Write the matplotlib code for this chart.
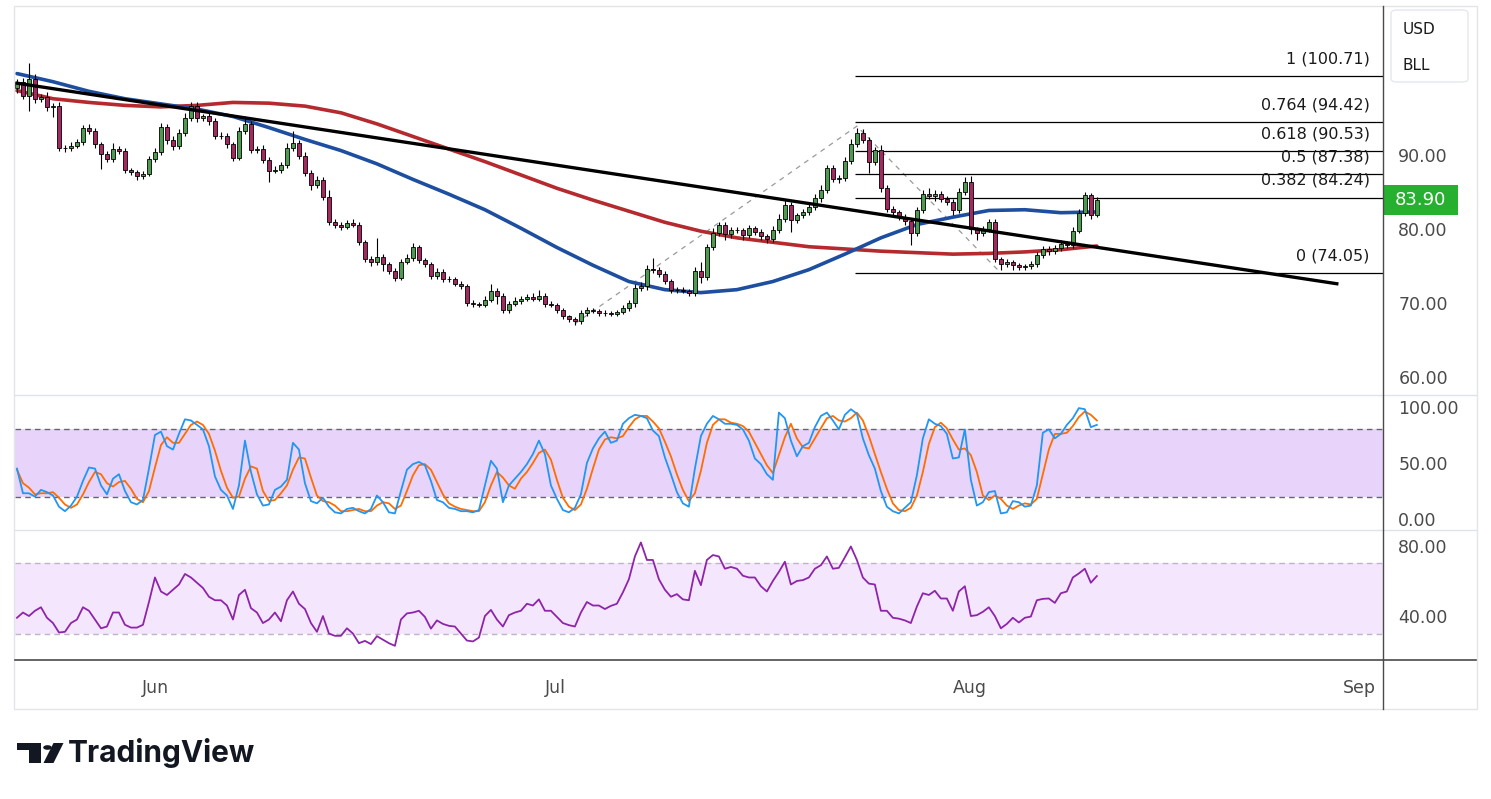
import numpy as np
import matplotlib.pyplot as plt
from matplotlib.patches import Rectangle, FancyBboxPatch, Polygon, Circle
from matplotlib.lines import Line2D

# ---------------- data (one value per bar) ----------------
first_open = 99.0
closes = [
    99.8, 98.0, 100.3, 97.5, 97.8, 96.5, 96.6, 91.0, 90.9, 91.2,
    91.8, 93.6, 93.3, 91.5, 90.1, 89.5, 90.8, 90.5, 88.0, 87.7,
    87.2, 87.4, 89.5, 90.4, 93.8, 92.0, 91.2, 93.0, 95.0, 96.6,
    95.0, 95.2, 94.6, 92.5, 92.6, 91.5, 89.6, 93.3, 94.2, 90.7,
    90.8, 89.3, 87.9, 88.0, 88.6, 91.0, 91.6, 89.9, 87.6, 86.0,
    86.6, 84.3, 81.0, 80.6, 80.3, 80.8, 80.6, 78.2, 76.0, 75.5,
    76.2, 75.3, 74.3, 73.4, 75.5, 76.1, 77.5, 75.8, 75.2, 73.7,
    74.2, 73.3, 73.2, 72.6, 72.3, 70.0, 69.8, 69.7, 70.4, 71.6,
    70.9, 69.1, 69.9, 70.3, 70.5, 70.8, 70.6, 71.0, 69.9, 69.7,
    69.0, 68.2, 67.8, 67.5, 68.6, 69.0, 68.9, 68.7, 68.6, 68.5,
    68.8, 69.3, 70.0, 72.0, 72.3, 74.6, 74.4, 73.9, 73.0, 71.7,
    71.8, 71.6, 71.4, 74.3, 73.5, 77.5, 79.5, 80.5, 79.3, 79.9,
    79.8, 79.2, 80.1, 79.6, 79.0, 78.7, 79.9, 81.4, 83.3, 81.2,
    81.9, 82.3, 83.0, 84.2, 85.3, 88.2, 86.8, 86.9, 89.2, 91.5,
    93.0, 92.0, 89.0, 90.7, 85.5, 82.7, 82.3, 81.6, 81.1, 79.5,
    82.6, 84.7, 84.4, 84.7, 84.1, 83.7, 82.5, 85.0, 86.4, 80.0,
    79.5, 80.0, 81.0, 75.9, 75.3, 75.5, 75.1, 74.8, 75.0, 75.3,
    76.5, 77.3, 77.0, 77.4, 78.0, 77.8, 79.7, 82.2, 84.6, 81.9,
    83.9,
]
wick_hi = [
    0.5, 0.6, 2.1, 0.6, 0.5, 0.7, 0.4, 0.6, 0.4, 0.5,
    0.4, 0.5, 0.6, 0.4, 0.3, 0.4, 0.8, 0.4, 0.5, 0.3,
    0.3, 0.4, 0.4, 0.6, 0.5, 0.4, 0.5, 0.5, 0.7, 0.6,
    0.5, 0.4, 0.8, 0.4, 0.5, 0.4, 0.3, 0.5, 1.0, 0.4,
    0.4, 0.5, 0.4, 0.5, 0.5, 0.6, 1.6, 0.4, 0.5, 0.4,
    0.5, 0.4, 1.0, 0.4, 0.3, 0.4, 0.5, 0.4, 0.3, 0.3,
    2.6, 0.4, 0.3, 0.4, 0.5, 0.5, 0.6, 0.4, 0.3, 0.4,
    0.5, 0.4, 0.4, 0.3, 0.4, 0.3, 0.4, 0.3, 0.5, 1.0,
    0.4, 0.4, 0.4, 0.5, 0.4, 0.4, 0.5, 0.7, 0.3, 0.3,
    0.3, 0.3, 0.2, 0.3, 0.4, 0.4, 0.3, 0.3, 0.3, 0.3,
    0.3, 0.4, 0.4, 0.5, 0.5, 0.5, 1.5, 0.4, 0.4, 0.3,
    0.3, 0.3, 0.3, 0.6, 1.2, 0.5, 0.6, 0.5, 0.4, 0.3,
    0.4, 0.3, 0.4, 0.3, 0.4, 0.3, 0.5, 0.6, 0.7, 0.4,
    0.3, 0.4, 0.4, 0.5, 0.6, 0.4, 0.4, 0.4, 0.5, 0.6,
    0.6, 0.5, 0.4, 0.4, 0.6, 0.4, 0.4, 0.3, 0.4, 0.3,
    0.4, 0.6, 0.8, 0.5, 0.4, 0.4, 0.3, 0.5, 0.6, 0.8,
    0.3, 0.4, 0.4, 0.3, 0.3, 0.4, 0.3, 0.3, 0.3, 0.4,
    0.4, 0.4, 0.4, 0.4, 0.5, 0.4, 0.5, 0.5, 0.4, 0.3,
    0.4,
]
wick_lo = [
    0.6, 0.4, 2.0, 0.5, 0.4, 0.6, 1.4, 0.5, 0.5, 0.4,
    0.3, 0.4, 0.4, 0.5, 2.0, 0.4, 0.5, 0.4, 0.5, 0.4,
    0.6, 0.4, 0.3, 0.4, 0.4, 0.5, 0.5, 0.4, 0.4, 0.4,
    0.6, 0.4, 0.5, 0.4, 0.4, 0.6, 0.4, 0.3, 0.4, 0.5,
    0.4, 0.4, 1.5, 0.4, 0.4, 0.3, 0.4, 0.4, 0.5, 0.7,
    0.4, 0.4, 0.4, 0.5, 0.4, 0.3, 0.4, 0.4, 0.4, 0.5,
    0.4, 1.0, 0.4, 0.4, 0.3, 0.3, 0.4, 0.4, 0.4, 0.4,
    0.4, 0.4, 0.3, 0.3, 0.4, 0.4, 0.4, 0.3, 0.3, 0.3,
    1.0, 0.4, 0.4, 0.3, 0.4, 0.3, 0.4, 0.3, 0.4, 0.3,
    0.3, 0.3, 0.4, 0.5, 0.3, 0.3, 0.3, 0.4, 0.3, 0.3,
    0.3, 0.3, 0.4, 0.5, 0.4, 0.5, 0.4, 0.4, 0.4, 0.4,
    0.3, 0.3, 0.4, 0.4, 0.8, 0.4, 0.4, 0.5, 0.8, 0.5,
    0.4, 0.7, 0.4, 0.4, 0.5, 0.6, 0.4, 0.4, 0.4, 1.6,
    0.4, 0.4, 0.4, 0.4, 0.5, 0.4, 0.4, 0.6, 0.4, 0.4,
    0.4, 0.4, 1.4, 0.4, 0.5, 0.4, 0.5, 0.4, 0.6, 1.7,
    0.5, 0.4, 0.3, 0.6, 0.4, 0.5, 0.6, 0.4, 0.4, 0.7,
    1.0, 0.4, 0.4, 0.4, 0.8, 0.4, 0.6, 0.4, 0.4, 0.4,
    0.4, 0.4, 0.5, 0.4, 0.4, 0.4, 0.4, 0.3, 0.4, 0.5,
    0.3,
]

# moving averages, one reading every 6 bars
ma_step = 6
ma_fast = [101.0, 99.9, 98.6, 97.6, 96.9, 96.2, 95.2, 93.7, 92.1, 90.6, 88.8,
           86.7, 84.7, 82.6, 80.1, 77.5, 75.1, 72.9, 71.8, 71.4, 71.8, 72.9,
           74.5, 76.6, 78.8, 80.6, 81.6, 82.5, 82.6, 82.2, 82.3]
ma_slow = [98.7, 97.6, 97.1, 96.7, 96.5, 96.7, 97.1, 97.0, 96.6, 95.7, 94.2,
           92.5, 90.8, 89.1, 87.3, 85.5, 83.9, 82.4, 80.9, 79.7, 78.8, 78.2,
           77.6, 77.3, 77.0, 76.8, 76.6, 76.7, 76.9, 77.2, 77.7]

trend_bars = [0, 220]
trend_prices = [99.7, 72.6]

fib_path_bars = [93, 140, 164]
fib_path_prices = [67.2, 93.9, 74.05]
fib_ratios = ['1', '0.764', '0.618', '0.5', '0.382', '0']
fib_prices = [100.71, 94.42, 90.53, 87.38, 84.24, 74.05]
fib_from_bar = 139.7

stoch_k = [
    45, 23, 23, 20, 26, 24, 21, 11, 7, 12,
    20, 34, 46, 45, 30, 22, 36, 40, 25, 15,
    13, 17, 45, 75, 78, 65, 62, 76, 89, 88,
    84, 80, 65, 38, 26, 21, 9, 30, 70, 42,
    22, 12, 13, 26, 29, 35, 68, 62, 32, 16,
    14, 19, 11, 6, 5, 9, 10, 7, 5, 9,
    21, 15, 6, 5, 25, 44, 49, 51, 48, 34,
    17, 15, 10, 9, 7, 7, 6, 8, 30, 52,
    45, 15, 30, 36, 42, 49, 58, 70, 58, 30,
    18, 8, 6, 10, 22, 50, 63, 72, 78, 68,
    70, 85, 90, 93, 92, 90, 79, 74, 55, 40,
    24, 14, 11, 45, 74, 85, 92, 89, 85, 85,
    84, 80, 70, 54, 49, 40, 35, 95, 90, 70,
    56, 65, 68, 82, 92, 95, 88, 80, 93, 98,
    94, 72, 57, 45, 25, 11, 7, 5, 10, 15,
    39, 72, 89, 85, 83, 76, 54, 55, 80, 35,
    12, 15, 24, 25, 5, 6, 16, 15, 11, 12,
    30, 77, 80, 72, 76, 84, 90, 99, 98, 82,
    84,
]
stoch_d = [
    44, 32, 28, 22, 23, 23, 24, 19, 13, 10,
    13, 22, 33, 42, 40, 32, 29, 33, 34, 27,
    18, 15, 25, 46, 66, 73, 68, 68, 76, 84,
    87, 84, 76, 61, 43, 28, 19, 20, 36, 47,
    45, 25, 16, 17, 23, 30, 44, 55, 54, 37,
    21, 16, 15, 12, 7, 7, 8, 9, 7, 7,
    12, 15, 14, 9, 12, 25, 39, 48, 49, 44,
    33, 22, 14, 11, 9, 8, 7, 7, 15, 30,
    42, 37, 30, 27, 36, 42, 50, 59, 62, 53,
    35, 19, 11, 8, 13, 27, 45, 62, 71, 73,
    72, 74, 82, 89, 92, 92, 87, 81, 69, 56,
    40, 26, 16, 23, 43, 68, 84, 89, 89, 86,
    85, 83, 78, 68, 58, 48, 41, 57, 73, 85,
    72, 64, 63, 72, 81, 90, 92, 88, 87, 90,
    95, 88, 74, 58, 42, 27, 14, 8, 7, 10,
    21, 42, 67, 82, 86, 81, 71, 62, 63, 57,
    42, 21, 17, 21, 18, 12, 9, 12, 14, 13,
    18, 40, 62, 76, 76, 77, 83, 91, 96, 93,
    88,
]
rsi = [
    39, 42, 40, 43, 45, 39, 36, 30.6, 31, 36,
    38, 45, 43, 38, 33, 34, 42, 42, 35, 33.4,
    33.4, 35, 48, 62, 54, 52, 55, 58, 64, 62,
    59, 56, 51, 49, 49, 46, 38, 52, 55, 44.5,
    42, 36, 38, 42, 37, 49, 54, 47, 44, 36,
    31, 40, 30, 28.7, 28.7, 33, 30, 24.5, 25.8, 24,
    28.5, 26.5, 24.5, 23, 38, 41.5, 42, 43, 39.5, 32.8,
    37.5, 35.5, 34.4, 34, 30, 26, 25.5, 27.7, 40, 43.5,
    38, 34, 40.5, 42, 43, 47, 46, 49.5, 43, 43,
    39.5, 36, 34.8, 34, 42, 48, 46, 46, 44, 45.8,
    47, 53.5, 61, 74, 82, 72, 72, 61, 55, 51,
    52.5, 49.5, 49, 65.8, 57.6, 72, 74.8, 74, 67, 68,
    67, 63, 62, 62, 57, 54, 60, 65.2, 71, 58,
    60, 60.5, 62, 67, 69, 74, 67, 67.5, 73.5, 79.7,
    72, 62, 58.5, 58, 43, 43, 39, 38.5, 37.5, 36,
    45.4, 53, 52, 54.4, 50, 50, 43, 54, 57, 40,
    40.5, 42.4, 45, 40, 33, 35.5, 39, 36.3, 39, 39.7,
    49, 49.8, 50, 47.5, 53, 54, 62, 64.3, 67, 59,
    62.8,
]

last_price = 83.90
symbol_lines = ['USD', 'BLL']
price_ticks = [60, 70, 80, 90]
stoch_ticks = [0, 50, 100]
rsi_ticks = [40, 80]
month_labels = ['Jun', 'Jul', 'Aug', 'Sep']

# ---------------- layout (pixel based) ----------------
W, H = 1491, 799
month_bars = [23, 89.7, 158.8, 223.8]
x_left, x_right = -0.33, 227.7

fig = plt.figure(figsize=(W / 100, H / 100), dpi=100)
fig.patch.set_facecolor('white')


def fx(x):
    return x / W


def fy(y):
    return 1 - y / H


def px_axes(x0, y0, x1, y1):
    return fig.add_axes([fx(x0), fy(y1), (x1 - x0) / W, (y1 - y0) / H])


ax = px_axes(15, 8, 1383, 394)
ax_st = px_axes(15, 395, 1383, 529)
ax_rsi = px_axes(15, 530, 1383, 660)

axis_color = '#4a4a4a'
for a in (ax, ax_st, ax_rsi):
    a.set_xlim(x_left, x_right)
    for s in a.spines.values():
        s.set_visible(False)
    a.yaxis.tick_right()
    a.tick_params(axis='y', length=0, pad=11, labelsize=12.5, labelcolor=axis_color)
    a.tick_params(axis='x', length=0)
    a.set_xticks([])

# ---------------- main price panel ----------------
n = len(closes)
bars = np.arange(n)
c = np.array(closes)
o = np.concatenate([[first_open], c[:-1]])
hi = np.maximum(o, c) + np.array(wick_hi)
lo = np.minimum(o, c) - np.array(wick_lo)
up = c >= o
body_col = np.where(up, '#4e9a4e', '#a3295e')

ax.vlines(bars, lo, hi, color='black', linewidth=0.8, zorder=3)
ax.bar(bars, np.maximum(np.abs(c - o), 0.08), bottom=np.minimum(o, c), width=0.62,
       color=body_col, edgecolor='black', linewidth=0.6, zorder=4)

ma_x = np.arange(len(ma_fast)) * ma_step
ax.plot(ma_x, ma_slow, color='#b52a2e', linewidth=2.6, zorder=2,
        solid_capstyle='round', solid_joinstyle='round')
ax.plot(ma_x, ma_fast, color='#1d4ea0', linewidth=2.6, zorder=2,
        solid_capstyle='round', solid_joinstyle='round')
ax.plot(trend_bars, trend_prices, color='black', linewidth=2.4, zorder=5)

ax.plot(fib_path_bars, fib_path_prices, color='#9a9a9a', linewidth=0.9,
        linestyle=(0, (4, 4)), zorder=1)
ax.hlines(fib_prices, fib_from_bar, x_right, color='black', linewidth=0.9, zorder=1)
for r, p in zip(fib_ratios, fib_prices):
    ax.text(225.5, p + 1.3, f'{r} ({p:.2f})', ha='right', va='bottom',
            fontsize=11.5, color='#1a1a1a', zorder=6)

ax.set_ylim(57.7, 109.86)
ax.set_yticks(price_ticks, [f'{t:.2f}' for t in price_ticks])

# ---------------- stochastic panel ----------------
ax_st.axhspan(20, 80, color='#e8d4fb', zorder=0, linewidth=0)
for lvl in (20, 80):
    ax_st.axhline(lvl, color='#63666f', linewidth=1, linestyle=(0, (4, 3)), zorder=1)
ax_st.plot(bars, stoch_d, color='#ff6d00', linewidth=1.3, zorder=2)
ax_st.plot(bars, stoch_k, color='#2196f3', linewidth=1.3, zorder=3)
ax_st.set_ylim(-8.9, 110.7)
ax_st.set_yticks(stoch_ticks, [f'{t:.2f}' for t in stoch_ticks])

# ---------------- RSI panel ----------------
ax_rsi.axhspan(30, 70, color='#f4e7fd', zorder=0, linewidth=0)
for lvl in (30, 70):
    ax_rsi.axhline(lvl, color='#c0b3c9', linewidth=1, linestyle=(0, (4, 3)), zorder=1)
ax_rsi.plot(bars, rsi, color='#8e24aa', linewidth=1.3, zorder=2)
ax_rsi.set_ylim(14.9, 89.1)
ax_rsi.set_yticks(rsi_ticks, [f'{t:.2f}' for t in rsi_ticks])
ax_rsi.set_xticks(month_bars, month_labels)
ax_rsi.tick_params(axis='x', length=0, pad=14, labelsize=12.5, labelcolor=axis_color)

# ---------------- frame, separators, price scale ----------------
fig.add_artist(Rectangle((fx(14), fy(709)), (1477 - 14) / W, (709 - 6) / H,
                         transform=fig.transFigure, fill=False,
                         edgecolor='#e3e5ea', linewidth=1))
for yy in (394.5, 529.5):
    fig.add_artist(Line2D([fx(15), fx(1476)], [fy(yy), fy(yy)], color='#e0e3eb', linewidth=1))
fig.add_artist(Line2D([fx(15), fx(1476)], [fy(660), fy(660)], color='#4a4a4a', linewidth=1.2))
fig.add_artist(Line2D([fx(1383), fx(1383)], [fy(6), fy(709)], color='#4a4a4a', linewidth=1.0))

# symbol box
fig.add_artist(FancyBboxPatch((fx(1391), fy(82)), (1468 - 1391) / W, (82 - 10) / H,
                              boxstyle='round,pad=0,rounding_size=0.004',
                              transform=fig.transFigure, facecolor='white',
                              edgecolor='#e6e8ee', linewidth=1))
fig.text(fx(1403), fy(29), symbol_lines[0], fontsize=11, color='#1a1a1a', va='center')
fig.text(fx(1403), fy(66), symbol_lines[1], fontsize=11, color='#1a1a1a', va='center')

# last price tag
tag_y = 155 + (90 - last_price) * 7.4
fig.add_artist(Rectangle((fx(1383), fy(tag_y + 15)), (1458 - 1383) / W, 30 / H,
                         transform=fig.transFigure, facecolor='#27b030', edgecolor='none'))
fig.text(fx(1420), fy(tag_y), f'{last_price:.2f}', fontsize=13, color='white',
         ha='center', va='center')

# ---------------- TradingView logo ----------------
logo = '#131722'
fig.add_artist(Polygon([(fx(17), fy(743)), (fx(41), fy(743)), (fx(41), fy(763)),
                        (fx(29), fy(763)), (fx(29), fy(750)), (fx(17), fy(750))],
                       closed=True, transform=fig.transFigure, facecolor=logo, edgecolor='none'))
fig.add_artist(Circle((fx(47.5), fy(747.5)), 4.3 / W, transform=fig.transFigure,
                      facecolor=logo, edgecolor='none'))
fig.add_artist(Polygon([(fx(53.5), fy(743)), (fx(63.5), fy(743)), (fx(53.5), fy(763)),
                        (fx(43.5), fy(763))], closed=True, transform=fig.transFigure,
                       facecolor=logo, edgecolor='none'))
fig.text(fx(68), fy(753), 'TradingView', fontsize=21.5, fontweight='bold',
         family=['Inter', 'DejaVu Sans'], color=logo, va='center', ha='left')

fig.savefig('out.png', dpi=100, facecolor='white')
